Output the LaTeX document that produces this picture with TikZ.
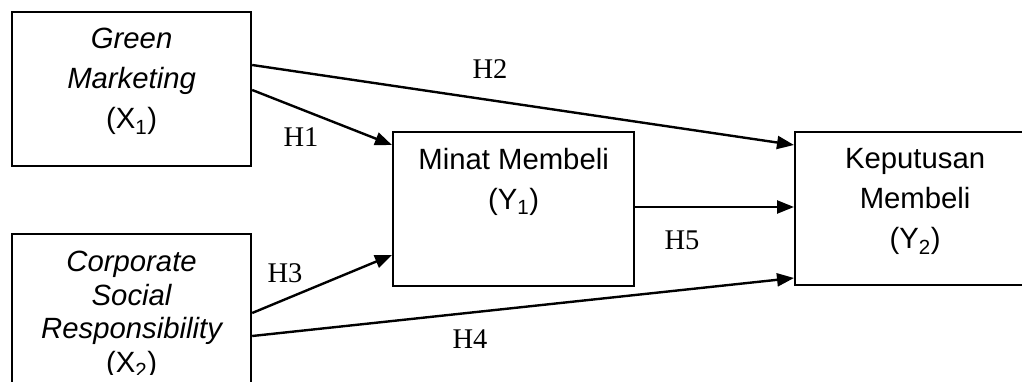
\documentclass[tikz,border=0pt]{standalone}
\usepackage{fontspec}
\setmainfont{Liberation Serif}
\newfontfamily\arialf{Liberation Sans}
\usetikzlibrary{arrows.meta,calc}

\tikzset{
  varbox/.style={draw, line width=2.2pt, inner sep=0pt, anchor=north west},
  boxtext/.style={anchor=north, inner sep=0pt, align=center, font=\arialf\fontsize{29.3}{40}\selectfont},
  hyp/.style={inner sep=0pt, font=\fontsize{28.5}{30}\selectfont},
  link/.style={line width=2.4pt, -{Triangle[length=17pt,width=13pt]}}
}

\begin{document}
\begin{tikzpicture}[x=1pt, y=-1pt]
  \useasboundingbox (0,0) rectangle (1022,382);
  \clip (0,0) rectangle (1022,382);

  % variable boxes
  \node[varbox, minimum width=239pt, minimum height=154pt] (x1) at (11,11) {};
  \node[varbox, minimum width=239pt, minimum height=162pt] (x2) at (11,233) {};
  \node[varbox, minimum width=241pt, minimum height=154pt] (y1) at (392,131) {};
  \node[varbox, minimum width=240pt, minimum height=153pt] (y2) at (794,131) {};

  % box captions
  \node[boxtext] (tx1) at ($(x1.north)+(0,17)$) {\itshape Green\\\itshape Marketing\\(X\textsubscript{1})};
  \begin{scope}
    \clip (11,233) rectangle (250,374);
    \node[boxtext, font=\arialf\fontsize{29.3}{33.5}\selectfont] (tx2) at ($(x2.north)+(0,18)$)
      {\itshape Corporate\\\itshape Social\\\itshape Responsibility\\(X\textsubscript{2})};
  \end{scope}
  \node[boxtext] (ty1) at ($(y1.north)+(0,17)$) {Minat Membeli\\(Y\textsubscript{1})};
  \node[boxtext] (ty2) at ($(y2.north)+(0,17)$) {Keputusan\\Membeli\\(Y\textsubscript{2})};

  % hypothesis paths
  \draw[link] ($(x1.north east)+(0,54)$) -- ($(y2.north west)+(0,14)$);
  \draw[link] ($(x1.north east)+(0,79)$) -- ($(y1.north west)+(0,14)$);
  \draw[link] ($(x2.north east)+(0,80)$) -- ($(y1.north west)+(0,124)$);
  \draw[link] ($(x2.north east)+(0,103)$) -- ($(y2.north west)+(0,147)$);
  \draw[link] ($(y1.north east)+(0,76)$) -- ($(y2.north west)+(0,76)$);

  % path labels
  \node[hyp] (h1) at (301,137) {H1};
  \node[hyp] (h2) at (490,69) {H2};
  \node[hyp] (h3) at (285,273) {H3};
  \node[hyp] (h4) at (470,339) {H4};
  \node[hyp] (h5) at (682,240) {H5};
\end{tikzpicture}
\end{document}
